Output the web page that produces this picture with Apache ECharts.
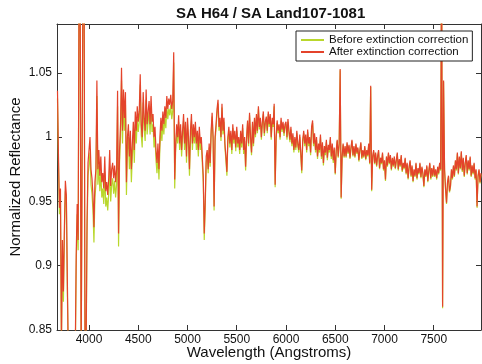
<!DOCTYPE html>
<html>
<head>
<meta charset="utf-8">
<script src="https://cdn.jsdelivr.net/npm/echarts@6/dist/echarts.min.js"></script>
<style>
html,body{margin:0;padding:0;background:#fff;}
#chart{width:482px;height:364px;}
</style>
</head>
<body>
<div id="chart"></div>
<script>
// Wavelength grid of the spectra (Angstroms): first sample and spacing
const waveStart = 3680;
const waveStep = 10;

// "After extinction correction" (red), one value per 10 A from 3680 to 7980
const afterValues = [
1.036,0.985,0.945,0.960,0.840,0.920,0.880,0.930,0.966,0.955,
0.889,0.830,0.820,0.820,0.820,0.820,0.820,0.820,0.830,0.909,
0.948,0.920,1.150,1.120,0.820,0.820,1.150,1.130,0.820,0.830,
0.935,0.980,
0.990,1.000,0.975,0.968,0.955,0.930,0.965,0.975,1.044,0.975,
0.990,0.970,0.985,0.965,0.972,0.960,0.985,0.958,0.965,0.955,
0.968,0.990,0.962,0.975,0.980,0.968,0.978,0.965,0.975,1.036,
0.925,0.990,1.010,1.054,1.005,1.037,1.015,1.035,0.965,1.000,
1.010,0.985,1.005,0.975,0.995,1.012,0.990,1.020,1.005,1.024,
1.012,1.020,1.049,1.010,1.000,1.035,1.015,1.005,1.037,1.010,
1.020,1.028,1.010,1.032,1.012,1.018,1.000,1.008,0.990,0.980,
0.995,0.975,1.000,1.015,1.005,1.020,1.010,1.024,1.015,1.032,
1.022,1.030,1.025,1.033,1.022,1.028,1.066,0.967,0.995,1.010,
1.000,1.017,0.995,1.010,0.990,1.005,1.018,0.995,1.012,0.985,
1.015,1.000,0.975,1.005,1.018,0.995,1.010,1.000,1.012,0.995,
1.005,0.990,1.008,0.995,1.000,0.985,0.970,0.925,0.950,0.985,
0.990,0.975,0.995,0.980,1.005,1.019,1.000,0.946,1.000,1.010,
1.022,1.029,1.008,1.015,1.000,1.026,1.005,1.015,0.995,0.985,
0.973,1.000,1.008,0.995,1.005,0.990,1.010,0.998,1.005,0.992,
1.008,0.995,1.000,0.990,1.005,0.995,1.010,0.990,1.000,0.977,
1.000,1.013,0.995,1.019,1.000,0.988,1.012,0.995,1.015,1.002,
1.018,1.005,1.024,1.008,1.015,1.000,1.012,1.020,1.003,1.012,
1.016,1.005,1.020,1.010,1.018,1.000,1.015,1.010,1.026,0.963,
1.000,1.013,1.005,1.010,1.000,1.015,1.006,1.012,1.003,1.010,
1.012,1.000,1.014,1.005,0.998,1.008,0.995,1.003,0.990,1.000,
0.992,1.005,0.995,0.990,1.002,0.988,0.974,0.998,1.005,0.995,
1.002,0.990,1.006,0.995,1.000,0.988,1.008,1.013,0.995,1.003,
0.990,1.000,0.985,0.995,0.990,1.002,0.985,0.996,0.980,0.993,
0.988,0.998,0.984,0.994,0.990,1.000,0.985,0.995,0.982,0.992,
0.972,0.990,0.998,0.985,0.995,1.053,0.953,0.985,0.995,0.985,
0.993,0.985,0.996,0.988,0.994,0.984,0.992,0.998,0.986,0.993,
0.985,0.995,0.988,0.992,0.982,0.990,0.996,0.984,0.990,0.985,
0.993,0.983,0.990,0.986,0.995,0.980,1.040,0.959,0.985,0.990,
0.980,0.988,0.978,0.985,0.990,0.976,0.984,0.980,0.988,0.975,
0.982,0.967,0.985,0.978,0.988,0.980,0.986,0.975,0.984,0.978,
0.985,0.976,0.982,0.988,0.975,0.983,0.978,0.986,0.974,0.980,
0.976,0.984,0.972,0.980,0.968,0.977,0.982,0.970,0.978,0.966,
0.975,0.970,0.980,0.968,0.976,0.972,0.980,0.969,0.977,0.972,
0.962,0.975,0.970,0.978,0.966,0.974,0.980,0.968,0.976,0.970,
0.978,0.970,0.975,0.968,0.977,0.972,0.980,0.975,1.150,0.868,
1.044,0.975,0.960,0.949,0.965,0.970,0.958,0.962,0.975,0.968,
0.978,0.970,0.982,0.975,0.988,0.972,0.985,0.976,0.989,0.974,
0.984,0.970,0.980,0.986,0.972,0.982,0.975,0.985,0.970,0.978,
0.972,0.980,0.968,0.975,0.946,0.970,0.975,0.965,0.972
];

// "Before extinction correction" (yellow-green), same grid
const beforeValues = [
1.030,0.978,0.940,0.952,0.835,0.912,0.872,0.922,0.958,0.948,
0.880,0.825,0.815,0.815,0.815,0.815,0.815,0.815,0.825,0.900,
0.940,0.912,1.150,1.110,0.815,0.815,1.150,1.120,0.815,0.825,
0.925,0.970,
0.978,0.988,0.963,0.956,0.943,0.918,0.953,0.963,1.032,0.963,
0.978,0.958,0.973,0.953,0.960,0.948,0.973,0.946,0.953,0.943,
0.956,0.978,0.950,0.963,0.968,0.956,0.966,0.953,0.963,1.024,
0.915,0.980,1.000,1.044,0.995,1.027,1.005,1.025,0.955,0.990,
1.000,0.975,0.995,0.965,0.985,1.002,0.980,1.010,0.995,1.014,
1.004,1.012,1.041,1.002,0.992,1.027,1.007,0.997,1.029,1.002,
1.012,1.020,1.002,1.024,1.004,1.010,0.992,1.000,0.982,0.972,
0.987,0.967,0.992,1.007,0.997,1.012,1.002,1.016,1.007,1.024,
1.014,1.022,1.017,1.025,1.014,1.020,1.058,0.960,0.990,1.005,
0.995,1.012,0.990,1.005,0.985,1.000,1.013,0.990,1.007,0.980,
1.010,0.995,0.970,1.000,1.013,0.990,1.005,0.995,1.007,0.990,
1.000,0.985,1.003,0.990,0.995,0.980,0.965,0.920,0.945,0.980,
0.987,0.972,0.992,0.977,1.002,1.016,0.997,0.943,0.997,1.007,
1.019,1.026,1.005,1.012,0.997,1.023,1.002,1.012,0.992,0.982,
0.970,0.997,1.005,0.992,1.002,0.987,1.007,0.995,1.002,0.989,
1.005,0.992,0.997,0.987,1.002,0.992,1.007,0.987,0.997,0.974,
0.998,1.011,0.993,1.017,0.998,0.986,1.010,0.993,1.013,1.000,
1.016,1.003,1.022,1.006,1.013,0.998,1.010,1.018,1.001,1.010,
1.014,1.003,1.018,1.008,1.016,0.998,1.013,1.008,1.024,0.961,
0.998,1.011,1.003,1.008,0.998,1.013,1.004,1.010,1.001,1.008,
1.010,0.998,1.012,1.003,0.996,1.006,0.993,1.001,0.988,0.998,
0.990,1.003,0.993,0.988,1.000,0.986,0.972,0.996,1.003,0.993,
1.000,0.988,1.004,0.993,0.998,0.986,1.006,1.011,0.993,1.001,
0.988,0.998,0.983,0.993,0.988,1.000,0.983,0.994,0.978,0.991,
0.986,0.996,0.982,0.992,0.988,0.998,0.983,0.993,0.980,0.990,
0.971,0.989,0.997,0.984,0.994,1.052,0.952,0.984,0.994,0.984,
0.992,0.984,0.995,0.987,0.993,0.983,0.991,0.997,0.985,0.992,
0.984,0.994,0.987,0.991,0.981,0.989,0.995,0.983,0.989,0.984,
0.992,0.982,0.989,0.985,0.994,0.979,1.039,0.958,0.984,0.989,
0.979,0.987,0.977,0.984,0.989,0.975,0.983,0.979,0.987,0.974,
0.981,0.966,0.984,0.977,0.987,0.979,0.985,0.974,0.983,0.977,
0.984,0.975,0.981,0.987,0.974,0.982,0.977,0.985,0.973,0.979,
0.975,0.983,0.971,0.979,0.967,0.976,0.981,0.969,0.977,0.965,
0.974,0.969,0.979,0.967,0.975,0.971,0.979,0.968,0.976,0.971,
0.961,0.974,0.969,0.977,0.965,0.973,0.979,0.967,0.975,0.969,
0.977,0.969,0.974,0.967,0.976,0.971,0.979,0.974,1.150,0.867,
1.043,0.974,0.959,0.948,0.964,0.969,0.957,0.961,0.974,0.967,
0.977,0.969,0.981,0.974,0.987,0.971,0.984,0.975,0.988,0.973,
0.983,0.969,0.979,0.985,0.971,0.981,0.974,0.984,0.969,0.977,
0.971,0.979,0.967,0.974,0.945,0.969,0.974,0.964,0.971
];

const seriesNames = ['Before extinction correction', 'After extinction correction'];
const xTickValues = [4000, 4500, 5000, 5500, 6000, 6500, 7000, 7500];
const yTickValues = [0.85, 0.9, 0.95, 1, 1.05];
const xRange = [3675, 7980];
const yRange = [0.85, 1.088];
const titleText = 'SA H64 / SA Land107-1081';
const xName = 'Wavelength (Angstroms)';
const yName = 'Normalized Reflectance';

if (afterValues.length !== 431 || beforeValues.length !== 431) {
  throw new Error('length mismatch ' + afterValues.length + ' ' + beforeValues.length);
}

function toPairs(vals) {
  return vals.map((v, i) => [waveStart + i * waveStep, v]);
}

const FONT = 'Liberation Sans, Arial, Helvetica, sans-serif';
const AX = '#333';
const RED = '#e4432b';
const GREEN = '#b9d72c';
const plain = v => String(v);

function xAx(pos, labels) {
  return {
    type: 'value', position: pos, min: xRange[0], max: xRange[1],
    name: labels ? xName : '', nameLocation: 'middle', nameGap: 15, nameMoveOverlap: false,
    nameTextStyle: { fontSize: 15, color: '#111', fontFamily: FONT },
    axisLine: { show: true, onZero: false, lineStyle: { color: AX, width: 1 } },
    axisTick: { show: true, inside: true, length: 5, customValues: xTickValues, lineStyle: { color: AX } },
    axisLabel: { show: labels, customValues: xTickValues, formatter: plain, fontSize: 12, color: '#111', margin: 4, fontFamily: FONT },
    splitLine: { show: false }
  };
}
function yAx(pos, labels) {
  return {
    type: 'value', position: pos, min: yRange[0], max: yRange[1],
    name: labels ? yName : '', nameLocation: 'middle', nameGap: 34, nameMoveOverlap: false,
    nameTextStyle: { fontSize: 15, color: '#111', fontFamily: FONT },
    axisLine: { show: true, onZero: false, lineStyle: { color: AX, width: 1 } },
    axisTick: { show: true, inside: true, length: 5, customValues: yTickValues, lineStyle: { color: AX } },
    axisLabel: { show: labels, customValues: yTickValues, formatter: plain, fontSize: 12, color: '#111', margin: 5, fontFamily: FONT },
    splitLine: { show: false }
  };
}

const chart = echarts.init(document.getElementById('chart'), null, { renderer: 'canvas' });
chart.setOption({
  animation: false,
  backgroundColor: '#fff',
  title: {
    text: titleText, left: 176, top: 6, padding: 0,
    textStyle: { fontSize: 15, fontWeight: 'bold', color: '#111', fontFamily: FONT }
  },
  legend: {
    orient: 'vertical', left: 296, top: 31,
    padding: [3, 4, 3, 5], itemGap: 0, itemWidth: 23, itemHeight: 2, icon: 'rect',
    backgroundColor: '#fff', borderColor: '#222', borderWidth: 1,
    textStyle: { fontSize: 11.5, color: '#111', fontFamily: FONT },
    data: seriesNames
  },
  grid: { left: 57, right: 1, top: 24, bottom: 34, containLabel: false, outerBoundsMode: 'none' },
  xAxis: [xAx('bottom', true), xAx('top', false)],
  yAxis: [yAx('left', true), yAx('right', false)],
  series: [
    { name: seriesNames[0], type: 'line', xAxisIndex: 0, yAxisIndex: 0, data: toPairs(beforeValues),
      symbol: 'none', showSymbol: false, clip: true, z: 2,
      lineStyle: { width: 1.2, color: GREEN }, itemStyle: { color: GREEN } },
    { name: seriesNames[1], type: 'line', xAxisIndex: 0, yAxisIndex: 0, data: toPairs(afterValues),
      symbol: 'none', showSymbol: false, clip: true, z: 3,
      lineStyle: { width: 1.2, color: RED }, itemStyle: { color: RED } }
  ]
});
</script>
</body>
</html>
